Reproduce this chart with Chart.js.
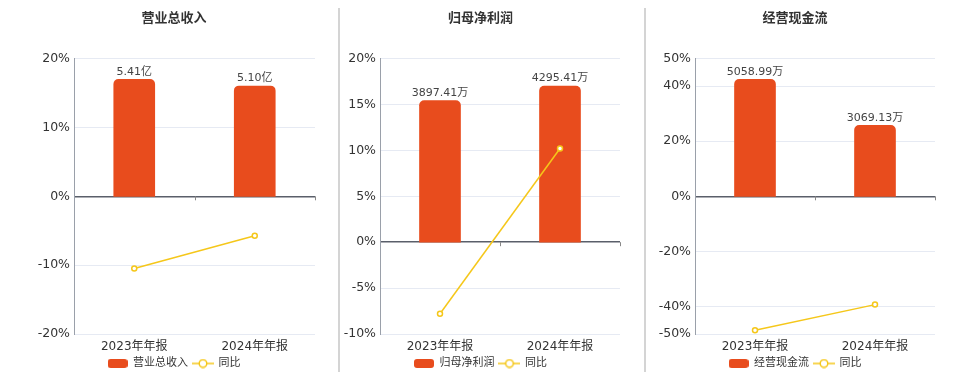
<!DOCTYPE html>
<html>
<head>
<meta charset="utf-8">
<script src="https://cdn.jsdelivr.net/npm/chart.js@4.4.1/dist/chart.umd.min.js"></script>
<style>
  html, body { margin: 0; padding: 0; background: #fff; }
  #wrap { position: relative; width: 960px; height: 372px; overflow: hidden; }
  .panel { position: absolute; top: 0; height: 372px; }
  .sep { position: absolute; top: 8px; bottom: 0; width: 0; border-left: 2px solid #d4d4d4; }
</style>
</head>
<body>
<div id="wrap">
  <div class="panel" style="left:0;width:340px"><canvas id="c1"></canvas></div>
  <div class="panel" style="left:340px;width:305px"><canvas id="c2"></canvas></div>
  <div class="panel" style="left:645px;width:315px"><canvas id="c3"></canvas></div>
  <div class="sep" style="left:338px"></div>
  <div class="sep" style="left:644px"></div>
</div>
<script>
const categories = ['2023年年报', '2024年年报'];

const revenueValues = [5.41, 5.10];
const revenueYoY = [-10.5, -5.73];
const revenueTicks = [-20, -10, 0, 10, 20];

const profitValues = [3897.41, 4295.41];
const profitYoY = [-7.8, 10.21];
const profitTicks = [-10, -5, 0, 5, 10, 15, 20];

const cashValues = [5058.99, 3069.13];
const cashYoY = [-48.6, -39.33];
const cashTicks = [-50, -40, -20, 0, 20, 40, 50];

const BAR_COLOR = '#e84c1d';
const LINE_COLOR = '#f5c71a';
const FONT = "'DejaVu Sans', 'Noto Sans CJK SC', sans-serif";

// legend icons
function makeIcon(w, h, draw) {
  const c = document.createElement('canvas');
  c.width = w; c.height = h;
  draw(c.getContext('2d'));
  return c;
}
const barIcon = makeIcon(20, 9, (g) => {
  g.fillStyle = BAR_COLOR;
  g.beginPath();
  g.roundRect(0, 0, 20, 9, 3);
  g.fill();
});
const lineIcon = makeIcon(22, 10, (g) => {
  g.strokeStyle = LINE_COLOR;
  g.lineWidth = 1.5;
  g.beginPath(); g.moveTo(0, 5); g.lineTo(22, 5); g.stroke();
  g.fillStyle = '#fff';
  g.beginPath(); g.arc(11, 5, 3.8, 0, Math.PI * 2); g.fill(); g.stroke();
});

// value labels above bars + small ticks on the zero axis
const extrasPlugin = {
  id: 'extras',
  afterDatasetsDraw(chart) {
    const ctx = chart.ctx;
    const meta = chart.getDatasetMeta(0);
    const labels = chart.options.plugins.extras.labels;
    ctx.save();
    ctx.font = '11px ' + FONT;
    ctx.fillStyle = '#444';
    ctx.textAlign = 'center';
    ctx.textBaseline = 'bottom';
    meta.data.forEach((bar, i) => {
      ctx.fillText(labels[i], bar.x, bar.y - 2);
    });
    const x = chart.scales.x;
    const y0 = chart.scales.y.getPixelForValue(0);
    const step = x.getPixelForValue(1) - x.getPixelForValue(0);
    ctx.strokeStyle = '#888';
    ctx.lineWidth = 1;
    [0.5, 1.5].forEach(v => {
      const px = Math.round(x.getPixelForValue(0) + v * step) + 0.5;
      ctx.beginPath(); ctx.moveTo(px, y0); ctx.lineTo(px, y0 + 4); ctx.stroke();
    });
    ctx.restore();
  }
};

function buildChart(id, title, name, values, yoy, ticks, unit, padLeft, axisWidth) {
  const yMin = ticks[0], yMax = ticks[ticks.length - 1];
  const barMax = Math.max(...values) / 0.85;
  const barMin = barMax * yMin / yMax;
  const labels = values.map(v => v.toFixed(2) + unit);

  return new Chart(document.getElementById(id), {
    data: {
      labels: categories,
      datasets: [
        {
          type: 'bar', label: name, data: values, yAxisID: 'yBar', order: 2,
          backgroundColor: BAR_COLOR, barThickness: 41,
          borderRadius: { topLeft: 5, topRight: 5 }, borderSkipped: 'bottom'
        },
        {
          type: 'line', label: '同比', data: yoy, yAxisID: 'y', order: 1,
          borderColor: LINE_COLOR, borderWidth: 1.5, pointRadius: 2.5,
          pointBackgroundColor: '#fff', pointBorderColor: LINE_COLOR, pointBorderWidth: 1.5
        }
      ]
    },
    options: {
      responsive: true,
      maintainAspectRatio: false,
      animation: false,
      layout: { padding: { left: padLeft, right: 25, bottom: 0 } },
      scales: {
        x: {
          grid: { display: false, drawTicks: false },
          border: { display: false },
          ticks: { font: { family: FONT, size: 12 }, color: '#333', padding: 6 },
          afterFit: (s) => { s.height = 19; }
        },
        y: {
          min: yMin, max: yMax,
          afterBuildTicks: (s) => { s.ticks = ticks.map(v => ({ value: v })); },
          afterFit: (s) => { s.width = axisWidth; },
          grid: {
            drawTicks: false,
            color: (c) => c.tick && c.tick.value === 0 ? '#5a5f6a' : '#e6eaf3',
            lineWidth: (c) => c.tick && c.tick.value === 0 ? 1.5 : 1
          },
          border: { color: '#9aa0aa' },
          ticks: {
            font: { family: FONT, size: 12.5 }, color: '#333', padding: 4,
            callback: (v) => v + '%'
          }
        },
        yBar: { display: false, min: barMin, max: barMax }
      },
      plugins: {
        title: {
          display: true, text: title, color: '#333',
          font: { family: FONT, size: 13, weight: 'bold' },
          padding: { top: 11, bottom: 32 }
        },
        legend: {
          position: 'bottom',
          maxHeight: 19,
          labels: {
            usePointStyle: true, pointStyleWidth: 20, boxHeight: 10,
            padding: 5, color: '#333', font: { family: FONT, size: 11 },
            sort: (a, b) => a.datasetIndex - b.datasetIndex,
            generateLabels: (chart) => {
              const items = Chart.defaults.plugins.legend.labels.generateLabels(chart);
              items.forEach(it => { it.pointStyle = it.datasetIndex === 0 ? barIcon : lineIcon; });
              return items;
            }
          }
        },
        tooltip: { enabled: false },
        extras: { labels }
      }
    },
    plugins: [extrasPlugin]
  });
}

buildChart('c1', '营业总收入', '营业总收入', revenueValues, revenueYoY, revenueTicks, '亿', 33, 41);
buildChart('c2', '归母净利润', '归母净利润', profitValues, profitYoY, profitTicks, '万', 1, 39);
buildChart('c3', '经营现金流', '经营现金流', cashValues, cashYoY, cashTicks, '万', 10, 40);
</script>
</body>
</html>
